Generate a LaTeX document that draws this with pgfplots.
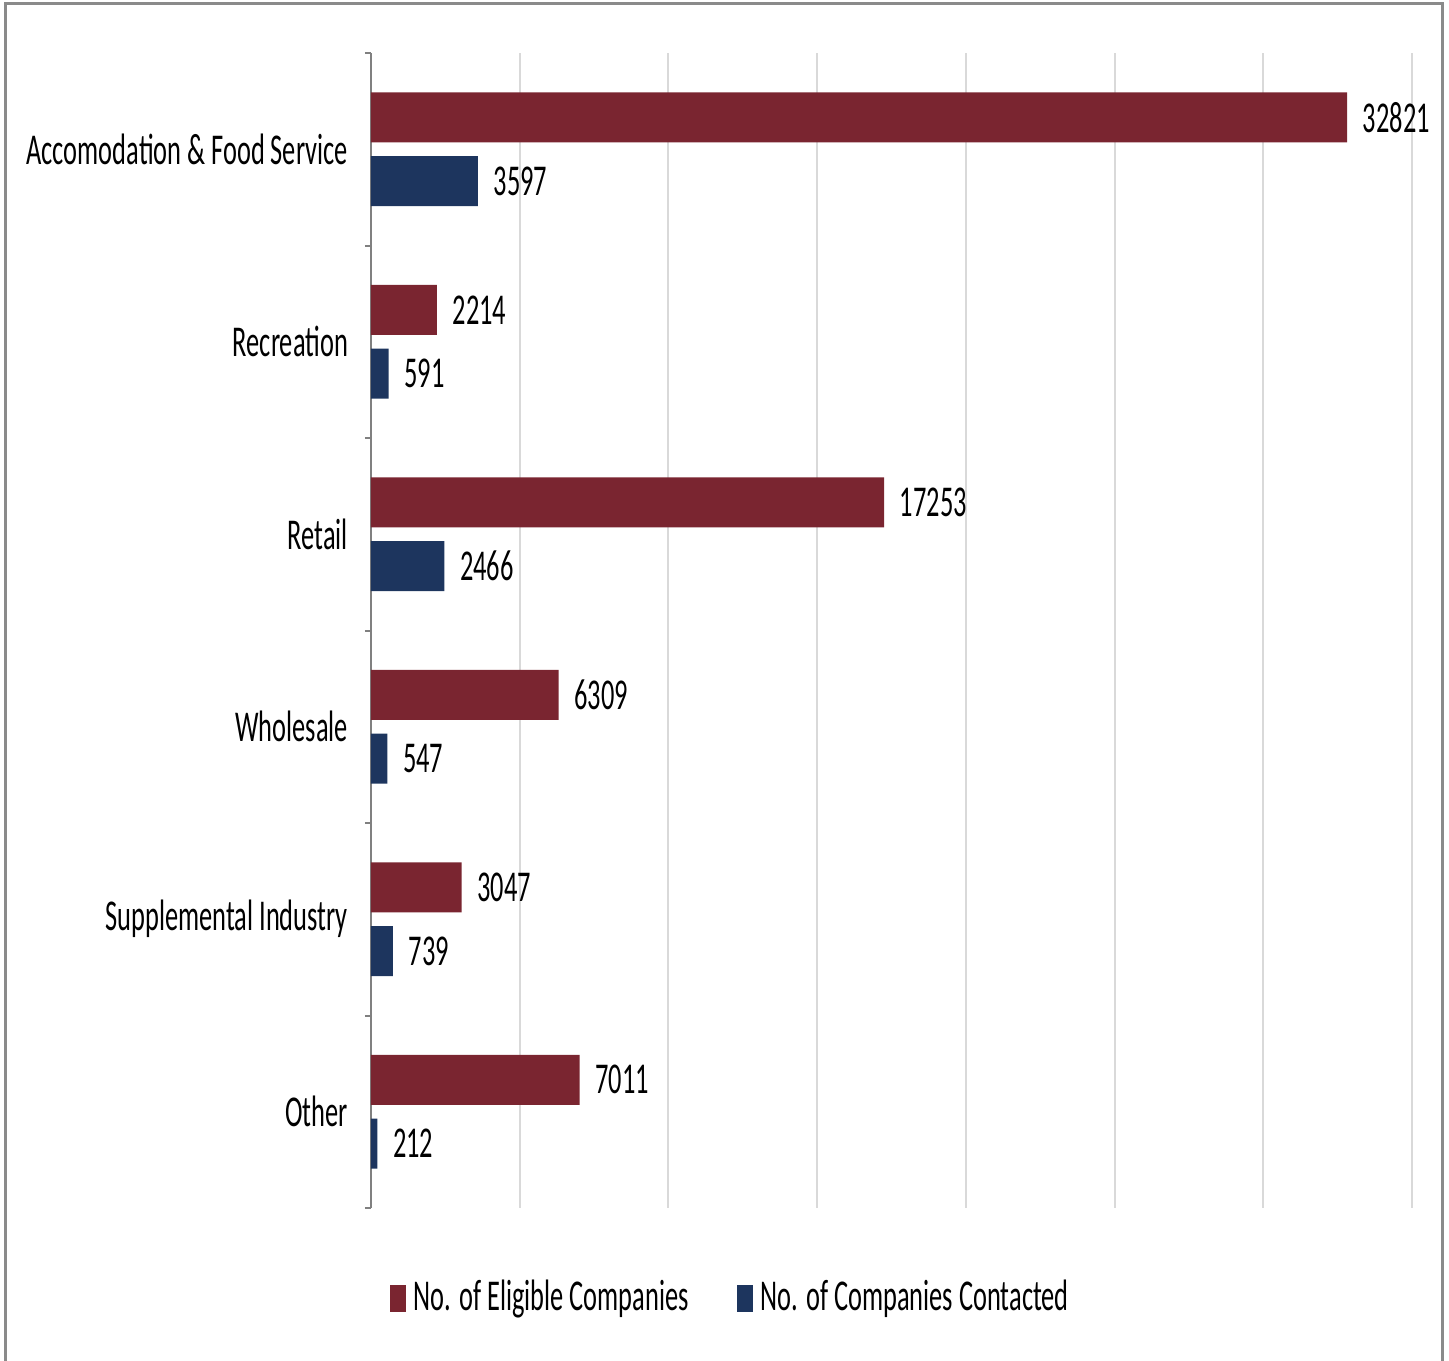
\documentclass[border=0pt]{standalone}
\usepackage{fontspec}
\setmainfont{Carlito}[FakeStretch=0.6]
\usepackage{pgfplots}
\pgfplotsset{compat=1.18}
\definecolor{barred}{HTML}{7A2530}
\definecolor{barblue}{HTML}{1D355E}
\definecolor{gridgray}{HTML}{D9D9D9}
\definecolor{framegray}{HTML}{8A8A8A}
\begin{document}
\begin{tikzpicture}
\useasboundingbox (0,0) rectangle (362.25pt,340.25pt);
\draw[framegray, line width=0.75pt] (1.25pt,-1pt) -- (1.25pt,339.25pt) -- (360.5pt,339.25pt) -- (360.5pt,-1pt);
\begin{axis}[
  at={(92.75pt,38.25pt)}, anchor=south west,
  scale only axis, width=260.25pt, height=288.75pt,
  xbar, bar width=0.26,
  xmin=0, xmax=35000, ymin=-0.5, ymax=5.5,
  y dir=reverse,
  scaled x ticks=false,
  axis y line*=left, axis x line*=bottom,
  x axis line style={draw=none},
  y axis line style={draw=gray, line width=0.5pt},
  xtick={0,5000,...,35000}, xticklabels={},
  xmajorgrids, major grid style={gridgray, line width=0.5pt},
  major x tick style={draw=none},
  ytick={0,1,2,3,4,5},
  yticklabels={Accomodation \& Food Service, Recreation, Retail, Wholesale, Supplemental Industry, Other},
  major y tick style={draw=none},
  minor ytick={-0.5,0.5,...,5.5},
  minor y tick style={draw=gray, line width=0.5pt},
  minor tick length=1.5pt, tick align=outside,
  yticklabel style={font=\fontsize{11}{13}\selectfont, inner sep=0pt, xshift=-1.3pt},
  nodes near coords,
  nodes near coords style={font=\fontsize{11}{13}\selectfont, anchor=west, inner sep=0pt, xshift=3.75pt, /pgf/number format/1000 sep={}, /pgf/number format/assume math mode=true},
  legend style={at={(0.348,-0.078)}, anchor=center, draw=none, legend columns=2, font=\fontsize{11}{13}\selectfont, /tikz/every even column/.append style={column sep=10pt}},
  legend image code/.code={\fill[#1] (0pt,-3.4pt) rectangle (4pt,3.4pt);},
  clip=false,
]
\addplot[fill=barred, draw=none, bar shift=-0.166] coordinates {(32821,0) (2214,1) (17253,2) (6309,3) (3047,4) (7011,5)};
\addplot[fill=barblue, draw=none, bar shift=0.166] coordinates {(3597,0) (591,1) (2466,2) (547,3) (739,4) (212,5)};
\legend{No. of Eligible Companies, No. of Companies Contacted}
\end{axis}
\end{tikzpicture}
\end{document}
